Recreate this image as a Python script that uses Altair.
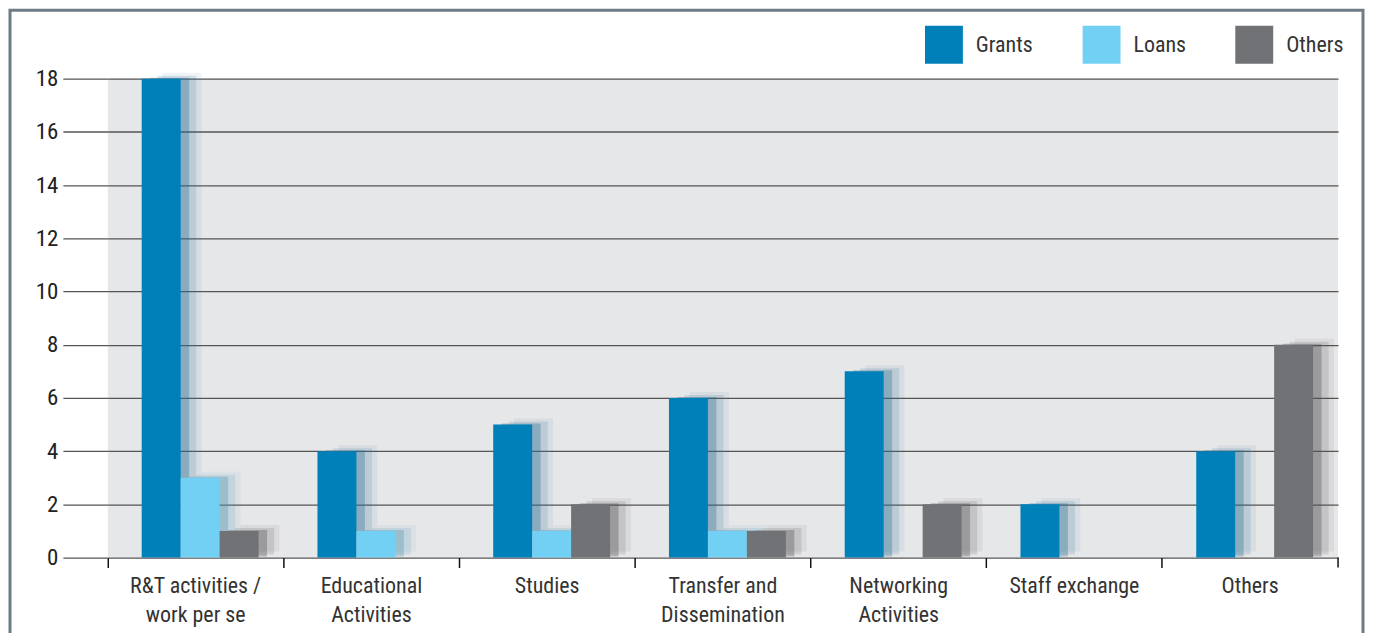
import altair as alt
import pandas as pd

categories = ["R&T activities /|work per se", "Educational|Activities", "Studies",
              "Transfer and|Dissemination", "Networking|Activities", "Staff exchange", "Others"]
series = ["Grants", "Loans", "Others"]
grants = [18, 4, 5, 6, 7, 2, 4]
loans = [3, 1, 1, 1, 0, 0, 0]
others = [1, 0, 2, 1, 2, 0, 8]
colors = ["#0080b9", "#73d0f5", "#717275"]
shadow_colors = ["#2f6f95", "#4f93b5", "#505154"]

rows = []
for i, c in enumerate(categories):
    for s, vals in zip(series, [grants, loans, others]):
        rows.append({"cat": c, "series": s, "series_s": s, "value": vals[i]})
df = pd.DataFrame(rows)

FONT = "Liberation Sans Narrow, Roboto Condensed, Arial Narrow, Roboto, sans-serif"
W, H = 1233, 480

xenc = alt.X("cat:N", sort=categories, title=None,
             scale=alt.Scale(paddingInner=0, paddingOuter=0),
             axis=alt.Axis(labelAngle=0, bandPosition=0, domain=False, grid=False,
                           tickSize=10, tickColor="#111", tickWidth=1.5,
                           labelExpr="split(datum.label, '|')", labelFontSize=22,
                           labelColor="#333", labelFont=FONT, labelPadding=8,
                           labelLineHeight=29, labelBaseline="top"))
yenc = alt.Y("value:Q", title=None,
             scale=alt.Scale(domain=[0, 18], nice=False),
             axis=alt.Axis(values=[0, 2, 4, 6, 8, 10, 12, 14, 16, 18], domain=False,
                           grid=True, gridColor="#555", gridWidth=1.3,
                           tickSize=45, tickColor="#555", tickWidth=1.3,
                           labelFontSize=23, labelColor="#222", labelFont=FONT,
                           labelPadding=5))
xoff = alt.XOffset("series:N", sort=series,
                   scale=alt.Scale(paddingOuter=0.756, paddingInner=0, align=0.576))


def xoff_shadow(align):
    return alt.XOffset("series_s:N", sort=series,
                       scale=alt.Scale(paddingOuter=0.756, paddingInner=0, align=align))


legend = alt.Legend(title=None, orient="none", direction="horizontal",
                    legendX=819, legendY=-53, symbolType="square",
                    symbolSize=1444, symbolStrokeWidth=0, symbolOpacity=1,
                    labelFontSize=22, labelFont=FONT, labelColor="#333",
                    labelOffset=13, columnPadding=49, padding=0)
color = alt.Color("series:N", sort=series, scale=alt.Scale(domain=series, range=colors),
                  legend=legend)
shadow_color = alt.Color("series_s:N", sort=series,
                         scale=alt.Scale(domain=series, range=shadow_colors), legend=None)

base = alt.Chart(df)
shadow3 = base.mark_bar(opacity=0.08, yOffset=-6).encode(
    x=xenc, y=yenc, xOffset=xoff_shadow(0.93), color=shadow_color)
shadow2 = base.mark_bar(opacity=0.16, yOffset=-3).encode(
    x=xenc, y=yenc, xOffset=xoff_shadow(0.84), color=shadow_color)
shadow = base.mark_bar(opacity=0.35, yOffset=-1).encode(
    x=xenc, y=yenc, xOffset=xoff_shadow(0.72), color=shadow_color)
bars = base.mark_bar(opacity=1).encode(x=xenc, y=yenc, xOffset=xoff, color=color)

end_tick = alt.Chart(pd.DataFrame({"v": [0]})).mark_rule(color="#111", strokeWidth=1.5).encode(
    x=alt.value(W), y=alt.value(H), y2=alt.value(H + 10))
frame = alt.Chart(pd.DataFrame({"v": [0]})).mark_rect(fill=None, stroke="#6e7c86", strokeWidth=3).encode(
    x=alt.value(-98), x2=alt.value(1258), y=alt.value(-68.5), y2=alt.value(640))

chart = alt.layer(frame, shadow3, shadow2, shadow, bars, end_tick).resolve_scale(
    xOffset="independent", color="independent"
).properties(
    width=W, height=H, padding=0, background="white"
).configure_view(fill="#e6e7e9", stroke=None)

chart.save("out.html", embed_options={"renderer": "svg", "actions": False})
